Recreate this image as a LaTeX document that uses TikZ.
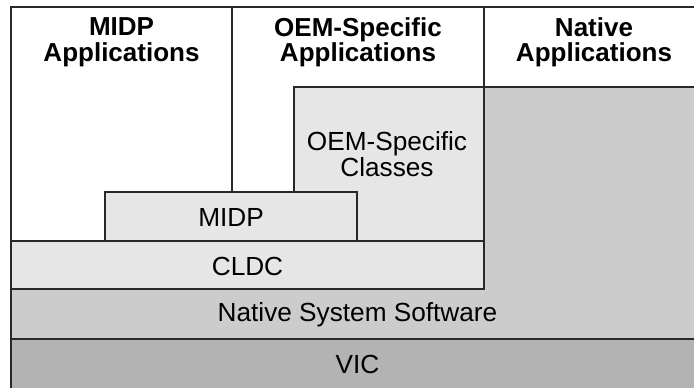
\documentclass[tikz,border=0pt]{standalone}
\usepackage{fontspec}
\setmainfont{Liberation Sans}
\usetikzlibrary{positioning}
\definecolor{LayerLight}{RGB}{230,230,230}
\definecolor{LayerMid}{RGB}{204,204,204}
\definecolor{LayerDark}{RGB}{179,179,179}
\definecolor{EdgeGray}{RGB}{40,40,40}
\begin{document}
\begin{tikzpicture}[x=1pt,y=-1pt,
  layer/.style={draw=EdgeGray,line width=1.3pt},
  label/.style={align=center,inner sep=0pt,font=\fontsize{26.2}{26}\selectfont},
  title/.style={label,font=\fontsize{26}{25.5}\selectfont\bfseries}]
  \useasboundingbox (0,0) rectangle (694,388);
  \clip (0,0) rectangle (694,388);
  \fill[white] (0,0) rectangle (694,388);
  % hardware and native layers
  \filldraw[layer,fill=LayerDark] (11,339) rectangle (704,400);
  \filldraw[layer,fill=LayerMid] (11,289) -- (484,289) -- (484,87) -- (704,87)
    -- (704,339) -- (11,339) -- cycle;
  % java layers
  \filldraw[layer,fill=LayerLight] (11,241) rectangle (484,289);
  \filldraw[layer,fill=LayerLight] (294,87) rectangle (484,241);
  \filldraw[layer,fill=LayerLight] (105,192) rectangle (357,241);
  % application columns
  \draw[layer] (11,241) -- (11,7) -- (704,7);
  \draw[layer] (232,7) -- (232,192);
  \draw[layer] (484,7) -- (484,87);
  \node[title] (midpapps) at (121.5,42.5) {MIDP\\Applications};
  \node[title] (oemapps) at (358,42.5) {OEM-Specific\\Applications};
  \node[title] (nativeapps) at (594,42.5) {Native\\Applications};
  \node[label] (oemclasses) at (387,154) {OEM-Specific\\Classes};
  \node[label] (midp) at (231,217) {MIDP};
  \node[label] (cldc) at (247.5,266) {CLDC};
  \node[label] (nss) at (357.5,315) {Native System Software};
  \node[label] (vic) at (357.5,364) {VIC};
\end{tikzpicture}
\end{document}
